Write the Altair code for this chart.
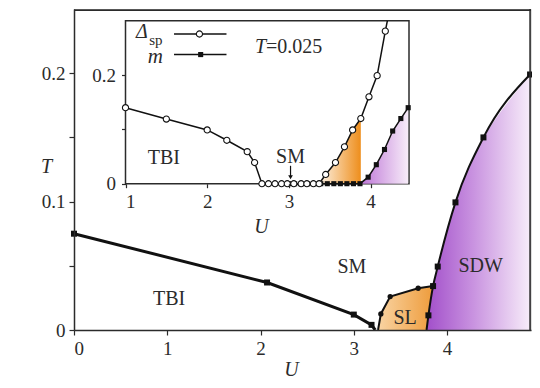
import altair as alt
import pandas as pd

FONT = "Liberation Serif"
INK = "#2b2b2b"

# ---------------- main phase diagram data ----------------
tbi_u = [0.0, 2.07, 3.0, 3.19, 3.23]
tbi_t = [0.075, 0.037, 0.012, 0.004, 0.0]
tbi_marker = [True, True, True, True, False]

sl_u = [3.26, 3.29, 3.39, 3.69, 3.85]
sl_t = [0.0, 0.0125, 0.026, 0.0325, 0.0342]
sl_marker = [False, True, True, True, True]

sdw_u = [3.78, 3.80, 3.85, 3.90, 4.09, 4.39, 4.89]
sdw_t = [0.0, 0.0114, 0.0342, 0.0494, 0.0994, 0.150, 0.199]
sdw_marker = [False, True, True, True, True, True, True]

main_label_text = ["TBI", "SM", "SL", "SDW"]
main_label_u = [1.02, 2.98, 3.55, 4.36]
main_label_t = [0.024, 0.049, 0.0095, 0.050]

# ---------------- inset data (T = 0.025) ----------------
dsp_u = [1.0, 1.5, 2.0, 2.24, 2.49, 2.58, 2.67, 2.75, 2.83, 2.91, 2.98, 3.06,
         3.15, 3.22, 3.30, 3.37, 3.45, 3.57, 3.68, 3.78, 3.88, 3.98, 4.08, 4.18]
dsp_v = [0.140, 0.119, 0.099, 0.080, 0.059, 0.039, 0.0, 0.0, 0.0, 0.0, 0.0, 0.0,
         0.0, 0.0, 0.0, 0.0, 0.017, 0.039, 0.068, 0.099, 0.120, 0.160, 0.199, 0.281]
dsp_edge_u = [4.205]
dsp_edge_v = [0.30]

m_u = [3.0, 3.07, 3.15, 3.23, 3.31, 3.39, 3.47, 3.55, 3.63, 3.71, 3.79, 3.87,
       3.97, 4.07, 4.17, 4.27, 4.37, 4.46]
m_v = [0.0, 0.0, 0.0, 0.0, 0.0, 0.0, 0.0, 0.0, 0.0, 0.0, 0.0, 0.0,
       0.012, 0.035, 0.063, 0.097, 0.120, 0.140]

sl_fill_range = [3.37, 3.88]
sdw_fill_start = 3.87

inset_label_text = ["TBI", "SM"]
inset_label_u = [1.47, 3.02]
inset_label_v = [0.047, 0.0495]

# ---------------- scales / axes ----------------
W, H = 457, 321
U_MAX, T_MAX = 4.9, 0.25
INSET_X_RANGE = [51.5, 335]
INSET_Y_RANGE = [174.7, 11.8]

MXS = alt.Scale(domain=[0, U_MAX], nice=False, zero=False)
MYS = alt.Scale(domain=[0, T_MAX], nice=False, zero=False)
IXS = alt.Scale(domain=[1, 4.47], nice=False, zero=False, range=INSET_X_RANGE)
IYS = alt.Scale(domain=[0, 0.3], nice=False, zero=False, range=INSET_Y_RANGE)

common_axis = dict(labelFont=FONT, labelFontSize=19, labelColor=INK, tickColor=INK,
                   tickWidth=1.2, grid=False,
                   titleFont=FONT, titleFontSize=20, titleFontStyle="italic",
                   titleFontWeight="normal", titleColor=INK, titleAngle=0,
                   titleAlign="center", titleBaseline="middle", zindex=1)

MXA = alt.Axis(orient="bottom", values=[0, 1, 2, 3, 4], format="d", title="U",
               tickSize=5, labelPadding=4, titleX=217, titleY=39,
               domainColor=INK, domainWidth=1.5, **common_axis)
MYA = alt.Axis(orient="left", values=[0, 0.05, 0.1, 0.15, 0.2], title="T",
               labelExpr="datum.value == 0.05 || datum.value == 0.15 ? '' : format(datum.value, '.2~f')",
               tickSize=5, labelPadding=4, titleX=-28, titleY=157,
               domainColor=INK, domainWidth=1.5, **common_axis)
IXA = alt.Axis(orient="bottom", offset=-(H - INSET_Y_RANGE[0]), values=[1, 2, 3, 4], format="d",
               title="U", tickSize=4, labelPadding=5, domain=False,
               titleX=187, titleY=43, **common_axis)
IYA = alt.Axis(orient="left", offset=-INSET_X_RANGE[0], values=[0, 0.1, 0.2], title=None,
               labelExpr="datum.value == 0.1 ? '' : format(datum.value, '.1~f')",
               tickSize=4, labelPadding=6, domain=False, **common_axis)


def mx(field=None, datum=None):
    if datum is not None:
        return alt.X(datum=datum, type="quantitative", scale=MXS, axis=MXA)
    return alt.X(field, type="quantitative", scale=MXS, axis=MXA)


def my(field=None, datum=None):
    if datum is not None:
        return alt.Y(datum=datum, type="quantitative", scale=MYS, axis=MYA)
    return alt.Y(field, type="quantitative", scale=MYS, axis=MYA)


def ix(field=None, datum=None):
    if datum is not None:
        return alt.X(datum=datum, type="quantitative", scale=IXS, axis=IXA)
    return alt.X(field, type="quantitative", scale=IXS, axis=IXA)


def iy(field=None, datum=None):
    if datum is not None:
        return alt.Y(datum=datum, type="quantitative", scale=IYS, axis=IYA)
    return alt.Y(field, type="quantitative", scale=IYS, axis=IYA)


def grad(stops):
    return alt.Gradient(gradient="linear", x1=0, x2=1, y1=0, y2=0,
                        stops=[alt.GradientStop(color=c, offset=o) for o, c in stops])


one = pd.DataFrame({"a": [0]})

# ---------------- main layers ----------------
tbi_df = pd.DataFrame({"U": tbi_u, "T": tbi_t, "mk": tbi_marker})
sl_df = pd.DataFrame({"U": sl_u, "T": sl_t, "mk": sl_marker})
sdw_df = pd.DataFrame({"U": sdw_u, "T": sdw_t, "mk": sdw_marker})
mlab_df = pd.DataFrame({"txt": main_label_text, "U": main_label_u, "T": main_label_t})

sl_area = alt.Chart(sl_df).mark_area(
    orient="horizontal",
    color=grad([(0, "#f9d4a3"), (0.36, "#ee9c3c"), (1, "#ee9c3c")])
).encode(x=mx("U"), x2=alt.X2(datum=U_MAX), y=my("T"))

sdw_area = alt.Chart(sdw_df).mark_area(
    orient="horizontal", interpolate="monotone",
    color=grad([(0, "#a24fca"), (0.45, "#c993e0"), (1, "#f8eefa")])
).encode(x=mx("U"), x2=alt.X2(datum=U_MAX), y=my("T"))

tbi_line = alt.Chart(tbi_df).mark_line(color="#111", strokeWidth=3).encode(x=mx("U"), y=my("T"))
sl_line = alt.Chart(sl_df).mark_line(color="#111", strokeWidth=2, orient="horizontal").encode(
    x=mx("U"), y=my("T"), order=alt.Order("T:Q"))
sdw_line = alt.Chart(sdw_df).mark_line(color="#111", strokeWidth=2, orient="horizontal",
                                       interpolate="monotone").encode(
    x=mx("U"), y=my("T"), order=alt.Order("T:Q"))

tbi_pts = alt.Chart(tbi_df).transform_filter("datum.mk").mark_square(
    color="#111", size=36, opacity=1).encode(x=mx("U"), y=my("T"))
sl_pts = alt.Chart(sl_df).transform_filter("datum.mk").mark_circle(
    color="#111", size=28, opacity=1).encode(x=mx("U"), y=my("T"))
sdw_pts = alt.Chart(sdw_df).transform_filter("datum.mk").mark_square(
    color="#111", size=36, opacity=1).encode(x=mx("U"), y=my("T"))

main_text = alt.Chart(mlab_df).mark_text(font=FONT, fontSize=20, color=INK).encode(
    x=mx("U"), y=my("T"), text="txt:N")

# frame lines on the top and right edges (drawn just inside the plot edge)
frame_top = alt.Chart(one).mark_rule(color=INK, strokeWidth=1.6).encode(
    x=mx(datum=0), x2=alt.X2(datum=U_MAX), y=my(datum=T_MAX * 0.9965))
frame_right = alt.Chart(one).mark_rule(color=INK, strokeWidth=1.6).encode(
    x=mx(datum=U_MAX * 0.998), y=my(datum=0), y2=alt.Y2(datum=T_MAX))

main = alt.layer(sl_area, sdw_area, tbi_line, sl_line, sdw_line,
                 tbi_pts, sl_pts, sdw_pts, main_text, frame_top, frame_right)

# ---------------- inset layers ----------------
dsp_df = pd.DataFrame({"u": dsp_u, "v": dsp_v})
dsp_line_df = pd.DataFrame({"u": dsp_u + dsp_edge_u, "v": dsp_v + dsp_edge_v})
m_df = pd.DataFrame({"u": m_u, "v": m_v})
ilab_df = pd.DataFrame({"txt": inset_label_text, "u": inset_label_u, "v": inset_label_v})

frame = alt.Chart(one).mark_rect(
    fill="white", stroke=INK, strokeWidth=1.5).encode(
    x=ix(datum=1), x2=alt.X2(datum=4.47), y=iy(datum=0), y2=alt.Y2(datum=0.3))

orange_in = alt.Chart(dsp_df).transform_filter(
    f"datum.u >= {sl_fill_range[0]} && datum.u <= {sl_fill_range[1]}").mark_area(
    color=grad([(0, "#fdf3e6"), (1, "#ee8e1c")])).encode(x=ix("u"), y=iy("v"))

purple_in = alt.Chart(m_df).transform_filter(f"datum.u >= {sdw_fill_start}").mark_area(
    color=grad([(0, "#bd74d6"), (1, "#f7ecf9")])).encode(x=ix("u"), y=iy("v"))

dsp_line = alt.Chart(dsp_line_df).mark_line(color="#111", strokeWidth=1.5).encode(x=ix("u"), y=iy("v"))
m_line = alt.Chart(m_df).mark_line(color="#111", strokeWidth=1.5).encode(x=ix("u"), y=iy("v"))
m_pts = alt.Chart(m_df).mark_square(color="#111", size=26, opacity=1).encode(x=ix("u"), y=iy("v"))
dsp_pts = alt.Chart(dsp_df).mark_point(shape="circle", filled=False, stroke="#111", fill="white",
                                       fillOpacity=1, strokeWidth=1.1, size=38, opacity=1).encode(
    x=ix("u"), y=iy("v"))

inset_text = alt.Chart(ilab_df).mark_text(font=FONT, fontSize=20, color=INK).encode(
    x=ix("u"), y=iy("v"), text="txt:N")

# legend / annotations (positions in inset units)
leg_line_u = [1.594, 2.236]
leg_dsp_v = 0.2757
leg_m_v = 0.2378
leg_mark_u = [1.905, 1.92]

leg_rule1 = alt.Chart(one).mark_rule(color="#111", strokeWidth=1.5).encode(
    x=ix(datum=leg_line_u[0]), x2=alt.X2(datum=leg_line_u[1]), y=iy(datum=leg_dsp_v))
leg_rule2 = alt.Chart(one).mark_rule(color="#111", strokeWidth=1.5).encode(
    x=ix(datum=leg_line_u[0]), x2=alt.X2(datum=leg_line_u[1]), y=iy(datum=leg_m_v))
leg_c = alt.Chart(one).mark_point(shape="circle", filled=False, stroke="#111", fill="white",
                                  fillOpacity=1, strokeWidth=1.1, size=38, opacity=1).encode(
    x=ix(datum=leg_mark_u[0]), y=iy(datum=leg_dsp_v))
leg_s = alt.Chart(one).mark_square(color="#111", size=26, opacity=1).encode(
    x=ix(datum=leg_mark_u[1]), y=iy(datum=leg_m_v))
leg_delta = alt.Chart(one).mark_text(text="Δ", font=FONT, fontSize=20, fontStyle="italic",
                                     color=INK).encode(x=ix(datum=1.20), y=iy(datum=0.279))
leg_sp = alt.Chart(one).mark_text(text="sp", font=FONT, fontSize=15, color=INK, align="left").encode(
    x=ix(datum=1.29), y=iy(datum=0.265))
leg_m = alt.Chart(one).mark_text(text="m", font=FONT, fontSize=21, fontStyle="italic",
                                 color=INK).encode(x=ix(datum=1.364), y=iy(datum=0.234))
t_T = alt.Chart(one).mark_text(text="T", font=FONT, fontSize=20, fontStyle="italic",
                               color=INK, align="right").encode(x=ix(datum=2.72), y=iy(datum=0.252))
t_val = alt.Chart(one).mark_text(text="=0.025", font=FONT, fontSize=20, color=INK,
                                 align="left").encode(x=ix(datum=2.72), y=iy(datum=0.252))

arrow = alt.Chart(one).mark_rule(color="#111", strokeWidth=1.2).encode(
    x=ix(datum=3.02), y=iy(datum=0.033), y2=alt.Y2(datum=0.012))
arrow_head = alt.Chart(one).mark_point(shape="triangle-down", filled=True, color="#111",
                                       size=22, opacity=1).encode(
    x=ix(datum=3.02), y=iy(datum=0.012))

inset = alt.layer(frame, orange_in, purple_in, dsp_line, m_line, m_pts, dsp_pts, inset_text,
                  leg_rule1, leg_rule2, leg_c, leg_s, leg_delta, leg_sp, leg_m, t_T, t_val,
                  arrow, arrow_head)

chart = alt.layer(main, inset).resolve_scale(x="independent", y="independent").properties(
    width=W, height=H,
    padding={"left": 66, "top": 1, "right": 1, "bottom": 48},
    autosize=alt.AutoSizeParams(type="none"),
).configure_view(stroke=INK, strokeWidth=1.5).configure(background="white")

chart.save("out.html", embed_options={"renderer": "svg", "actions": False})
